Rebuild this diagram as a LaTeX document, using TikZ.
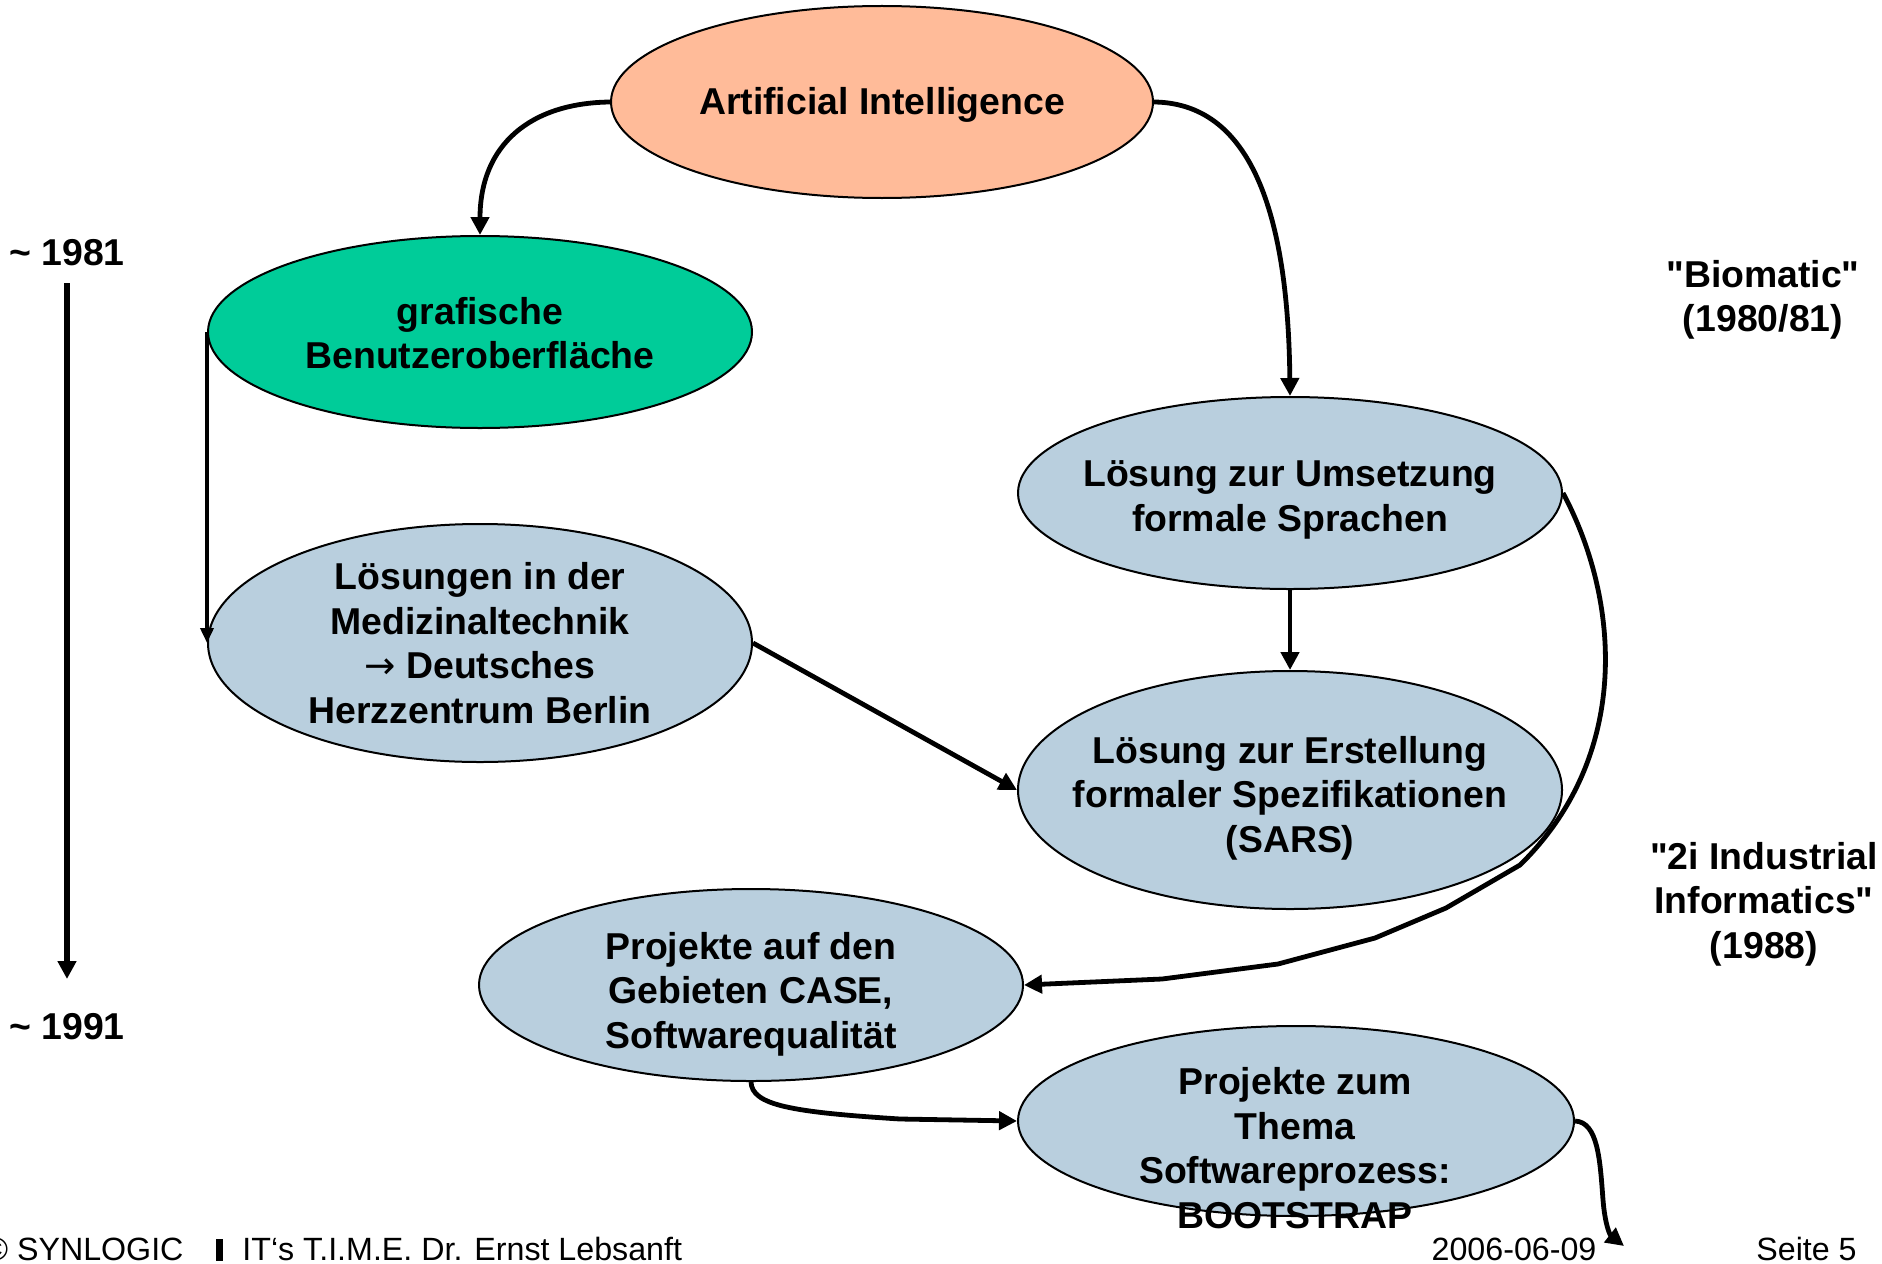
\documentclass[tikz,border=0pt]{standalone}
\usepackage{fontspec}
\setmainfont{Liberation Sans}[Ligatures=TeXOff]
\newfontfamily\arrowfont{DejaVu Sans}
\usetikzlibrary{shapes.geometric,arrows.meta}
\definecolor{aicol}{RGB}{255,187,153}
\definecolor{guicol}{RGB}{0,204,153}
\definecolor{bluecol}{RGB}{185,207,222}
\tikzset{
  ell/.style={ellipse,draw=black,line width=1pt,inner sep=0pt},
  lbl/.style={font=\bfseries\fontsize{18.7}{22.3}\selectfont,align=center,inner sep=0pt},
  foot/.style={font=\fontsize{16.1}{18}\selectfont,inner sep=0pt},
  conn/.style={line width=2.4pt,-{Triangle[length=9pt,width=9pt]}},
  thinconn/.style={line width=1.8pt,-{Triangle[length=7.5pt,width=6.5pt]}},
}
\begin{document}
\begin{tikzpicture}[x=0.5pt,y=-0.5pt]
\useasboundingbox (0,0) rectangle (1882,1263);
% ellipses
\node[ell,fill=aicol,minimum width=271pt,minimum height=96pt] (ai) at (882,102) {};
\node[ell,fill=guicol,minimum width=272pt,minimum height=96pt] (gr) at (480,332) {};
\node[ell,fill=bluecol,minimum width=272pt,minimum height=119pt] (lo) at (480,643) {};
\node[ell,fill=bluecol,minimum width=272pt,minimum height=96pt] (us) at (1290,493) {};
\node[ell,fill=bluecol,minimum width=272pt,minimum height=119pt] (er) at (1290,790) {};
\node[ell,fill=bluecol,minimum width=272pt,minimum height=96pt] (pa) at (751,985) {};
\node[ell,fill=bluecol,minimum width=278pt,minimum height=95pt] (pz) at (1296,1121) {};
% connectors
\draw[conn] (ai.west) .. controls (530,103) and (480,145) .. (gr.north);
\draw[conn] (ai.east) .. controls (1240,103) and (1288,190) .. (us.north);
\draw[thinconn] (gr.west) -- (lo.west);
\draw[conn] (lo.east) -- (er.west);
\draw[conn] (us.south) -- (er.north);
\draw[conn] (us.east) .. controls (1620,600) and (1632,755) .. (1520,865)
  -- (1446,908) -- (1375,938) -- (1278,964) -- (1162,979) -- (pa.east);
\draw[conn] (pa.south) .. controls (752,1105) and (790,1112) .. (900,1119) -- (pz.west);
\coordinate (out) at (1624,1246);
\draw[conn] (pz.east) .. controls (1598,1122) and (1600,1160) .. (1603,1200)
  .. controls (1605,1225) and (1610,1235) .. (out);
% timeline
\node[lbl] (y1) at (67,253) {\textasciitilde{} 1981};
\node[lbl] (y2) at (67,1027) {\textasciitilde{} 1991};
\coordinate (t1) at (67,283);
\coordinate (t2) at (67,979);
\draw[conn,line width=2.6pt] (t1) -- (t2);
% texts
\node[lbl] (tai) at (882,105) {Artificial Intelligence};
\node[lbl] (tgr) at (480,333) {grafische\\Benutzeroberfläche};
\node[lbl] (tlo) at (480,643) {Lösungen in der\\Medizinaltechnik\\{\arrowfont\mdseries →} Deutsches\\Herzzentrum Berlin};
\node[lbl] (tus) at (1290,500) {Lösung zur Umsetzung\\formale Sprachen};
\node[lbl] (ter) at (1290,798) {Lösung zur Erstellung\\formaler Spezifikationen\\(SARS)};
\node[lbl] (tpa) at (751,994) {Projekte auf den\\Gebieten CASE,\\Softwarequalität};
\node[lbl] (tpz) at (1295,1148) {Projekte zum\\Thema\\Softwareprozess:\\BOOTSTRAP};
\node[lbl] (bio) at (1763,300) {"Biomatic"\\(1980/81)};
\node[lbl] (ind) at (1764,904) {"2i Industrial\\Informatics"\\(1988)};
% footer
\node[foot,anchor=base west] (f1) at (-16,1260) {© SYNLOGIC};
\fill (216,1239) rectangle (223,1261);
\node[foot,anchor=base west] (f2) at (242,1260) {IT‘s T.I.M.E. Dr. Ernst Lebsanft};
\node[foot,anchor=base] (f3) at (1514,1260) {2006-06-09};
\node[foot,anchor=base east] (f4) at (1857,1260) {Seite 5};
\end{tikzpicture}
\end{document}
